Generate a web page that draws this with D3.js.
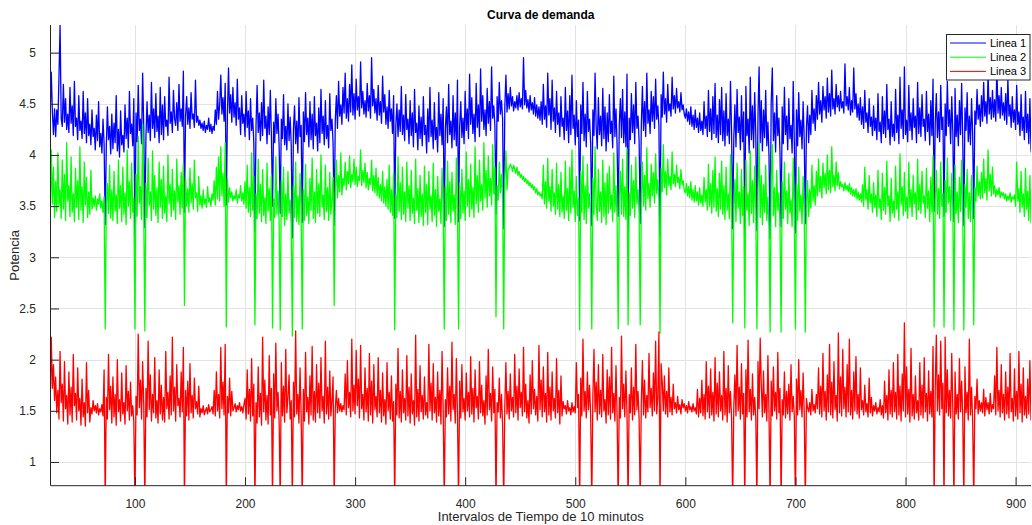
<!DOCTYPE html>
<html>
<head>
<meta charset="utf-8">
<script src="https://cdn.jsdelivr.net/npm/d3@7"></script>
<style>
  html, body { margin: 0; padding: 0; background: #fff; }
  svg { display: block; font-family: "Liberation Sans", Arial, Helvetica, sans-serif; }
</style>
</head>
<body>
<svg id="chart" width="1032" height="525"></svg>
<script>
// Demand curve: three feeders sampled every 10 minutes, one value per interval
const firstInterval = 20;

const linea1 = [
  4.35,4.52,4.29,4.38,4.81,4.42,4.20,4.45,4.18,4.44, // 20
  4.30,4.76,5.27,4.36,4.28,4.69,4.32,4.55,4.25,4.40, // 30
  4.22,4.66,4.31,4.48,4.19,4.72,4.28,4.36,4.15,4.58, // 40
  4.24,4.33,4.16,4.62,4.21,4.41,4.12,4.55,4.19,4.30, // 50
  4.10,4.44,4.18,4.26,4.05,4.39,4.14,4.52,4.08,4.21, // 60
  4.02,4.35,4.11,3.32,4.09,4.47,4.15,4.28,4.01,4.40, // 70
  4.06,4.31,4.12,4.58,4.04,4.25,3.98,4.43,4.10,4.19, // 80
  4.03,4.49,4.16,4.36,4.07,4.62,4.21,4.30,4.09,4.55, // 90
  3.12,4.41,4.13,4.68,4.24,4.35,4.11,4.80,4.27,3.29, // 100
  4.18,4.52,4.22,4.39,4.14,4.71,4.26,4.45,4.17,4.60, // 110
  4.23,4.38,4.12,4.66,4.20,4.49,4.15,4.57,4.28,4.34, // 120
  4.19,4.76,4.31,4.42,4.22,4.63,4.35,4.29,4.51,4.24, // 130
  4.69,4.33,4.45,4.28,4.82,3.44,4.38,4.57,4.30,4.46, // 140
  4.26,4.61,4.35,4.40,4.27,4.73,4.32,4.38,4.29,4.34, // 150
  4.26,4.31,4.24,4.33,4.22,4.29,4.25,4.36,4.23,4.30, // 160
  4.21,4.28,4.24,4.44,4.30,4.62,4.35,4.49,4.78,4.40, // 170
  4.56,4.33,4.70,3.51,4.38,4.85,4.41,4.59,4.32,4.66, // 180
  4.37,4.51,4.29,4.74,4.35,4.46,4.20,4.58,4.31,4.40, // 190
  4.18,4.62,4.27,4.43,4.15,4.55,4.24,4.36,4.12,3.25, // 200
  4.29,4.68,4.22,4.41,4.14,4.51,4.19,4.73,4.26,4.38, // 210
  4.11,4.47,4.20,4.63,4.17,3.50,4.32,4.12,4.55,4.21, // 220
  4.40,4.08,3.43,4.35,4.16,4.59,4.10,4.28,4.05,4.50, // 230
  4.14,4.37,4.09,3.19,4.25,4.48,4.11,4.33,4.02,4.56, // 240
  4.18,4.29,3.34,4.42,4.13,4.61,4.20,4.36,4.08,4.52, // 250
  4.15,4.40,4.06,4.57,4.19,4.31,4.04,4.46,4.12,4.64, // 260
  4.21,4.38,4.10,4.53,4.16,4.29,4.07,4.60,4.24,4.35, // 270
  4.12,3.31,4.34,4.58,4.26,4.72,4.38,4.49,4.30,4.66, // 280
  4.41,4.80,4.36,4.55,4.33,4.69,4.42,4.88,4.39,4.60, // 290
  4.35,4.74,4.44,4.57,4.38,4.91,4.46,4.62,4.40,4.53, // 300
  4.37,4.70,4.43,4.58,4.36,4.95,4.48,4.64,4.41,4.55, // 310
  4.34,4.68,4.39,4.52,4.31,4.77,4.42,4.59,4.30,4.47, // 320
  4.26,4.63,4.33,4.45,4.21,4.58,3.38,4.29,4.50,4.18, // 330
  4.44,4.23,4.67,4.20,4.39,4.14,4.59,4.25,4.35,4.11, // 340
  4.53,4.19,4.41,4.08,4.64,4.22,4.31,4.05,4.48,4.16, // 350
  4.37,4.09,4.57,4.20,4.29,4.02,4.45,4.13,4.66,4.18, // 360
  4.34,4.06,4.51,4.15,4.27,4.03,4.61,4.19,4.40,4.10, // 370
  4.55,3.30,4.26,4.47,4.12,4.69,4.20,4.33,4.07,4.58, // 380
  4.15,4.41,4.09,4.73,3.35,4.28,4.52,4.17,4.36,4.11, // 390
  4.62,4.24,4.45,4.16,4.79,4.30,4.56,4.21,4.40,4.13, // 400
  4.70,4.27,4.49,4.18,4.84,4.33,4.58,4.25,4.44,4.19, // 410
  4.65,4.31,4.52,4.24,4.86,4.36,4.48,4.28,3.42,4.57, // 420
  4.33,4.71,4.40,4.53,4.35,3.28,4.46,4.78,4.42,4.60, // 430
  4.45,4.66,4.48,4.57,4.43,4.52,4.46,4.58,4.44,4.61, // 440
  4.47,4.55,4.45,4.95,4.49,4.63,4.46,4.54,4.42,4.58, // 450
  4.44,4.51,4.40,4.56,4.38,4.49,4.36,4.47,4.34,4.52, // 460
  4.30,4.69,4.35,4.48,4.27,4.80,4.39,4.55,4.25,4.73, // 470
  4.33,4.46,4.22,4.62,4.30,4.41,4.18,4.57,4.28,4.36, // 480
  4.15,4.66,4.24,4.43,4.12,4.58,4.20,4.78,4.26,4.39, // 490
  4.10,4.53,4.18,4.34,3.36,4.49,4.21,4.71,4.14,4.40, // 500
  4.08,4.62,4.23,4.35,4.11,3.31,4.44,4.19,4.80,4.27, // 510
  4.06,4.56,4.20,4.38,4.09,4.65,4.16,4.47,4.04,4.41, // 520
  4.13,4.59,4.21,4.33,4.07,4.77,4.18,4.45,4.10,3.40, // 530
  4.30,4.55,4.17,4.64,4.12,4.42,4.08,4.79,3.25,4.36, // 540
  4.15,4.60,4.22,4.49,4.11,4.71,4.26,4.38,4.14,3.33, // 550
  4.29,4.67,4.24,4.52,4.18,4.80,4.31,4.44,4.21,4.62, // 560
  4.33,4.57,4.26,4.74,4.35,4.48,4.28,3.20,4.59,4.37, // 570
  4.81,4.40,4.55,4.32,4.69,4.43,4.50,4.38,4.76,4.45, // 580
  4.58,4.41,4.65,4.46,4.52,4.42,4.61,4.44,4.49,4.40, // 590
  4.36,4.45,4.33,4.42,4.30,4.47,4.28,4.39,4.25,4.44, // 600
  4.27,4.36,4.22,4.41,4.24,4.33,4.20,4.52,4.26,4.38, // 610
  4.18,4.63,4.23,4.45,4.15,4.57,4.21,4.70,4.17,4.39, // 620
  4.12,4.54,4.20,4.66,4.14,4.43,4.09,4.60,4.19,4.35, // 630
  4.11,4.72,4.24,3.28,4.16,4.49,4.08,4.64,4.22,4.37, // 640
  4.05,4.58,4.13,4.42,3.22,4.67,4.19,4.35,4.02,4.76, // 650
  4.15,4.48,4.07,4.61,4.20,3.26,4.39,4.86,4.12,4.53, // 660
  4.04,4.44,4.17,4.63,4.09,4.32,3.99,3.18,4.51,4.85, // 670
  4.14,4.41,4.03,4.58,4.19,4.36,4.01,3.30,4.47,4.11, // 680
  4.66,4.20,4.38,4.05,4.55,4.16,4.29,4.02,4.72,4.13, // 690
  3.24,4.44,4.09,4.61,4.18,4.34,4.06,4.52,4.15,3.33, // 700
  4.27,4.48,4.12,4.39,4.20,4.63,4.31,4.45,4.24,4.58, // 710
  4.35,4.71,4.40,4.53,4.32,4.67,4.44,4.57,4.36,4.75, // 720
  4.42,4.60,4.38,4.83,4.45,4.55,4.40,4.69,4.47,4.58, // 730
  4.43,4.62,4.46,4.52,4.41,4.89,4.48,4.57,4.44,4.66, // 740
  4.39,4.53,4.42,4.85,4.45,4.60,4.37,4.50,4.34,4.56, // 750
  4.30,4.47,4.26,4.63,4.32,4.41,4.22,4.55,4.28,4.37, // 760
  4.19,4.48,4.24,4.36,4.15,4.60,4.23,4.32,4.12,4.57, // 770
  4.21,4.43,4.17,4.69,4.25,4.35,4.10,4.52,4.18,4.30, // 780
  4.14,4.64,4.22,4.39,4.11,4.76,4.26,4.44,4.16,4.86, // 790
  4.20,4.34,4.13,4.68,4.24,4.41,4.15,4.55,4.27,4.38, // 800
  4.12,4.71,4.21,4.46,4.18,4.59,4.28,4.35,4.14,4.62, // 810
  4.23,4.40,4.10,4.53,4.19,4.74,3.45,4.31,4.60,4.17, // 820
  4.42,4.13,4.68,4.25,4.37,3.40,4.50,4.19,4.72,4.28, // 830
  4.44,4.11,4.57,4.22,3.35,4.65,4.18,4.39,4.09,4.53, // 840
  4.20,4.70,4.15,3.31,4.46,4.24,4.61,4.13,4.38,4.10, // 850
  4.55,4.21,3.38,4.43,4.30,4.64,4.35,4.49,4.28,4.58, // 860
  4.33,4.71,4.38,4.52,4.31,4.80,4.40,4.56,4.35,4.63, // 870
  4.37,4.54,4.33,4.86,4.41,4.58,4.36,4.66,4.39,4.51, // 880
  4.34,4.60,4.30,4.75,4.38,4.49,4.27,4.57,4.32,4.44, // 890
  4.25,4.68,4.30,4.42,4.19,4.59,4.24,4.37,4.15,4.62, // 900
  4.22,4.40,4.11,4.55,4.05,3.98,4.20,4.35,4.12,4.30  // 910
];

const linea2 = [
  3.55,3.48,3.92,3.41,4.05,3.52,3.88,3.39,3.74,3.45, // 20
  4.02,3.50,3.66,3.38,3.95,3.47,3.81,3.36,4.12,3.55, // 30
  3.70,3.40,3.98,3.44,3.62,3.35,3.87,3.49,3.75,3.37, // 40
  4.08,3.46,3.69,3.34,3.93,3.51,3.78,3.39,3.64,3.42, // 50
  3.85,3.47,3.58,3.50,3.60,3.46,3.57,3.52,3.62,3.48, // 60
  3.55,3.44,3.59,2.30,3.51,3.72,3.43,3.90,3.38,3.66, // 70
  3.36,3.84,3.45,3.61,3.33,3.95,3.48,3.70,3.35,3.88, // 80
  3.42,3.63,3.32,4.05,3.50,3.74,3.38,3.92,3.44,3.58, // 90
  2.30,3.81,3.40,4.18,3.53,3.69,3.37,4.30,3.46,2.28, // 100
  3.72,3.39,3.97,3.51,3.64,3.36,4.04,3.47,3.80,3.41, // 110
  3.68,3.34,3.93,3.49,3.76,3.38,3.89,3.43,3.60,3.35, // 120
  4.00,3.52,3.71,3.40,3.86,3.46,3.65,3.37,3.96,3.54, // 130
  3.70,3.42,3.83,3.48,3.91,2.53,3.78,3.50,3.67,3.44, // 140
  3.87,3.53,3.72,3.47,3.95,3.58,3.63,3.45,3.79,3.51, // 150
  3.60,3.48,3.66,3.52,3.57,3.49,3.69,3.54,3.58,3.50, // 160
  3.62,3.56,3.75,3.51,3.88,3.57,3.98,3.55,4.08,3.60, // 170
  3.82,3.50,4.12,2.32,3.77,3.54,3.68,3.58,3.64,3.55, // 180
  3.60,3.57,3.66,3.53,3.61,3.58,3.70,3.55,3.63,3.52, // 190
  3.74,3.48,3.90,3.44,3.68,3.40,4.02,3.46,3.79,2.34, // 200
  3.62,3.38,3.96,3.43,3.71,3.35,3.86,3.41,3.58,3.33, // 210
  3.92,3.45,3.67,3.36,3.80,2.31,3.57,3.39,3.98,3.42, // 220
  3.65,3.34,2.29,3.75,3.40,3.88,3.31,3.62,3.37,3.84, // 230
  3.43,3.56,3.30,2.23,3.70,3.39,3.93,3.35,3.60,3.32, // 240
  3.82,3.44,2.30,3.66,3.36,3.91,3.41,3.59,3.33,3.77, // 250
  3.46,3.97,3.38,3.64,3.34,3.86,3.43,3.72,3.40,4.00, // 260
  3.49,3.61,3.37,3.90,3.45,3.68,3.36,3.83,3.42,3.57, // 270
  3.78,2.53,3.62,3.95,3.58,3.80,3.64,4.02,3.61,3.77, // 280
  3.70,3.93,3.66,3.84,3.72,3.99,3.68,3.81,3.74,3.96, // 290
  3.71,3.88,3.69,3.79,3.75,4.05,3.70,3.85,3.73,3.92, // 300
  3.68,3.83,3.66,3.77,3.71,3.95,3.65,3.80,3.63,3.87, // 310
  3.60,3.78,3.58,3.71,3.55,3.84,3.53,3.69,3.50,3.76, // 320
  3.47,3.90,3.44,3.66,3.41,3.82,2.29,3.61,3.39,3.98, // 330
  3.45,3.73,3.37,3.88,3.42,3.64,3.35,3.93,3.48,3.70, // 340
  3.36,3.85,3.43,3.58,3.33,3.96,3.46,3.67,3.34,3.80, // 350
  3.40,3.62,3.31,3.89,3.44,3.71,3.32,3.84,3.47,3.60, // 360
  3.35,3.92,3.41,3.66,3.30,3.79,3.45,3.57,3.33,3.87, // 370
  3.48,2.30,3.69,3.36,3.94,3.42,3.74,3.34,3.83,3.45, // 380
  3.61,3.32,3.97,3.49,2.30,3.72,3.38,3.86,3.43,3.65, // 390
  3.36,4.03,3.50,3.76,3.40,3.91,3.47,3.68,3.39,4.08, // 400
  3.52,3.80,3.44,3.95,3.55,3.71,3.46,4.12,3.58,3.85, // 410
  3.49,3.99,3.60,3.77,3.51,4.10,3.62,3.88,2.42,3.70, // 420
  3.56,3.93,3.63,3.81,3.59,2.30,3.74,4.04,3.66,3.86, // 430
  3.87,3.91,3.89,3.84,3.90,3.86,3.82,3.88,3.80,3.84, // 440
  3.78,3.81,3.76,3.79,3.74,3.77,3.72,3.75,3.70,3.73, // 450
  3.68,3.71,3.66,3.69,3.63,3.67,3.61,3.64,3.60,3.62, // 460
  3.57,3.90,3.52,3.74,3.48,3.97,3.55,3.69,3.45,3.86, // 470
  3.50,3.63,3.42,3.92,3.47,3.71,3.40,3.83,3.44,3.60, // 480
  3.38,3.94,3.46,3.67,3.36,3.88,3.43,4.05,3.49,3.65, // 490
  3.35,3.79,3.41,3.58,2.29,3.84,3.44,3.99,3.37,3.70, // 500
  3.33,3.91,3.48,3.62,3.39,2.30,3.77,3.42,4.08,3.53, // 510
  3.36,3.86,3.45,3.64,3.34,3.95,3.40,3.73,3.32,3.82, // 520
  3.43,3.89,3.47,3.61,3.35,4.02,3.44,3.70,3.38,2.30, // 530
  3.58,3.84,3.42,3.96,3.40,3.69,3.37,4.06,2.34,3.63, // 540
  3.41,3.90,3.48,3.75,3.39,3.98,3.52,3.66,3.43,2.34, // 550
  3.55,3.93,3.50,3.80,3.46,4.07,3.57,3.72,3.49,3.91, // 560
  3.60,3.83,3.53,4.01,3.62,3.76,3.56,2.26,3.87,3.64, // 570
  4.10,3.68,3.84,3.61,3.96,3.70,3.79,3.66,4.03,3.72, // 580
  3.81,3.69,3.90,3.73,3.78,3.67,3.86,3.71,3.75,3.65, // 590
  3.63,3.72,3.60,3.69,3.58,3.74,3.56,3.66,3.54,3.70, // 600
  3.55,3.64,3.51,3.68,3.53,3.61,3.50,3.78,3.54,3.66, // 610
  3.46,3.91,3.50,3.72,3.43,3.85,3.49,3.98,3.45,3.67, // 620
  3.40,3.82,3.47,3.94,3.42,3.70,3.37,3.88,3.46,3.62, // 630
  3.38,4.00,3.51,2.36,3.44,3.76,3.35,3.92,3.48,3.64, // 640
  3.33,3.86,3.41,3.69,2.31,3.95,3.46,3.62,3.31,4.04, // 650
  3.43,3.75,3.34,3.89,3.47,2.30,3.66,4.12,3.39,3.80, // 660
  3.32,3.71,3.44,3.90,3.36,3.59,3.28,2.27,3.78,4.10, // 670
  3.41,3.68,3.30,3.85,3.46,3.63,3.29,2.27,3.74,3.38, // 680
  3.93,3.47,3.65,3.33,3.82,3.43,3.56,3.30,3.97,3.40, // 690
  2.30,3.71,3.36,3.88,3.45,3.61,3.33,3.79,3.42,2.27, // 700
  3.54,3.75,3.40,3.66,3.48,3.90,3.55,3.70,3.51,3.84, // 710
  3.60,3.96,3.64,3.79,3.58,3.92,3.68,3.82,3.62,4.00, // 720
  3.66,3.85,3.63,4.08,3.69,3.80,3.65,3.93,3.70,3.83, // 730
  3.67,3.74,3.69,3.71,3.65,3.73,3.66,3.70,3.64,3.72, // 740
  3.62,3.68,3.60,3.66,3.59,3.67,3.57,3.64,3.56,3.62, // 750
  3.54,3.71,3.50,3.88,3.56,3.66,3.47,3.80,3.53,3.62, // 760
  3.44,3.73,3.49,3.61,3.40,3.85,3.48,3.57,3.37,3.82, // 770
  3.46,3.68,3.42,3.94,3.50,3.60,3.35,3.77,3.43,3.55, // 780
  3.39,3.89,3.47,3.64,3.36,4.01,3.51,3.69,3.41,3.83, // 790
  3.45,3.59,3.38,3.93,3.49,3.66,3.40,3.80,3.52,3.63, // 800
  3.37,3.96,3.46,3.71,3.43,3.84,3.53,3.60,3.39,3.87, // 810
  3.48,3.65,3.35,3.78,3.44,3.99,2.32,3.56,3.85,3.42, // 820
  3.67,3.38,3.93,3.50,3.62,2.32,3.75,3.44,3.97,3.53, // 830
  3.69,3.36,3.82,3.47,2.29,3.90,3.43,3.64,3.34,3.78, // 840
  3.45,3.95,3.40,2.29,3.71,3.49,3.86,3.38,3.63,3.35, // 850
  3.80,3.46,2.34,3.68,3.55,3.89,3.60,3.74,3.57,3.83, // 860
  3.58,3.96,3.63,3.77,3.56,4.05,3.65,3.81,3.60,3.88, // 870
  3.62,3.70,3.59,3.66,3.61,3.68,3.58,3.64,3.60,3.63, // 880
  3.57,3.62,3.55,3.60,3.56,3.63,3.54,3.59,3.57,3.61, // 890
  3.50,3.93,3.55,3.67,3.44,3.84,3.49,3.62,3.40,3.87, // 900
  3.47,3.65,3.36,3.80,3.34,3.32,3.45,3.60,3.37,3.55  // 910
];

const linea3 = [
  1.45,1.38,1.62,1.55,2.22,1.72,1.95,1.60,1.83,1.48, // 20
  1.70,1.42,2.08,1.58,1.76,1.40,1.98,1.52,1.65,1.37, // 30
  1.88,1.46,1.73,1.39,2.05,1.55,1.67,1.41,1.92,1.50, // 40
  1.62,1.36,1.81,1.44,1.58,1.35,1.97,1.48,1.70,1.39, // 50
  1.53,1.47,1.60,1.50,1.55,1.48,1.57,1.46,1.52,1.49, // 60
  1.56,1.45,1.90,0.60,1.63,1.42,2.05,1.51,1.74,1.38, // 70
  1.83,1.44,1.66,1.36,2.00,1.49,1.61,1.40,1.87,1.47, // 80
  1.58,1.37,1.94,1.50,1.69,1.41,1.78,1.45,1.55,1.39, // 90
  0.60,1.64,1.46,2.25,1.53,1.80,1.42,1.98,1.57,0.60, // 100
  1.72,1.44,2.18,1.51,1.85,1.40,1.66,1.48,2.02,1.43, // 110
  1.60,1.38,1.90,1.47,1.75,1.41,1.63,1.39,2.08,1.52, // 120
  1.68,1.42,1.84,1.46,2.22,1.50,1.73,1.40,1.95,1.55, // 130
  1.62,1.44,1.88,1.49,2.12,0.60,1.70,1.45,1.79,1.41, // 140
  1.96,1.48,1.65,1.43,1.82,1.52,1.59,1.47,1.74,1.44, // 150
  1.52,1.48,1.55,1.46,1.50,1.53,1.47,1.56,1.49,1.51, // 160
  1.54,1.47,1.70,1.45,1.88,1.50,1.66,1.43,2.12,1.52, // 170
  1.78,1.46,2.15,0.60,1.64,1.48,1.82,1.45,1.69,1.50, // 180
  1.53,1.57,1.49,1.55,1.51,1.58,1.50,1.54,1.48,1.56, // 190
  1.62,1.42,1.90,1.47,1.71,1.40,2.01,1.45,1.76,0.60, // 200
  1.58,1.38,1.93,1.44,1.67,1.36,2.22,1.49,1.80,1.41, // 210
  1.65,1.37,2.04,1.46,1.72,0.60,1.86,1.43,2.16,1.50, // 220
  1.68,1.40,0.60,1.97,1.45,1.74,1.39,2.10,1.48,1.63, // 230
  1.85,1.42,1.60,0.60,1.78,1.44,2.28,1.47,1.66,1.38, // 240
  1.92,1.45,0.60,1.71,1.40,2.07,1.49,1.63,1.37,1.84, // 250
  1.46,2.13,1.41,1.69,1.39,1.95,1.48,1.77,1.43,2.02, // 260
  1.50,1.64,1.38,2.18,1.47,1.73,1.42,1.89,1.45,1.60, // 270
  1.83,0.60,1.52,1.70,1.48,1.62,1.50,1.57,1.49,1.55, // 280
  1.51,1.86,1.46,1.99,1.53,1.68,1.44,2.20,1.50,1.75, // 290
  1.47,2.09,1.55,1.81,1.43,2.14,1.52,1.66,1.41,1.92, // 300
  1.49,1.72,1.40,2.06,1.46,1.79,1.38,1.95,1.51,1.64, // 310
  1.44,2.02,1.48,1.70,1.39,1.87,1.45,1.61,1.37,1.97, // 320
  1.50,1.68,1.42,1.84,1.40,1.59,0.60,1.76,1.46,2.11, // 330
  1.43,1.69,1.39,1.90,1.48,1.62,1.41,2.04,1.45,1.73, // 340
  1.38,1.86,1.47,1.60,1.36,2.24,1.44,1.71,1.40,1.94, // 350
  1.49,1.65,1.42,1.83,1.46,1.58,1.43,2.15,1.50,1.77, // 360
  1.41,1.96,1.48,1.63,1.39,1.88,1.45,1.70,1.37,2.08, // 370
  1.52,0.60,1.61,1.44,1.92,1.47,1.74,1.40,2.17,1.51, // 380
  1.66,1.38,2.01,1.46,0.60,1.79,1.43,1.95,1.49,1.62, // 390
  1.41,1.87,1.50,1.68,1.44,2.03,1.47,1.72,1.39,1.90, // 400
  1.53,1.64,1.42,1.98,1.48,1.75,1.45,1.60,1.37,1.84, // 410
  1.46,2.10,1.51,1.67,1.40,1.93,1.48,1.71,0.60,1.58, // 420
  1.49,1.82,1.43,1.66,1.36,0.60,1.55,1.97,1.47,1.69, // 430
  1.42,1.86,1.50,1.63,1.44,2.05,1.48,1.74,1.41,1.91, // 440
  1.53,1.68,1.45,2.12,1.49,1.76,1.43,1.60,1.38,1.85, // 450
  1.47,1.99,1.52,1.71,1.46,1.64,1.40,2.14,1.51,1.80, // 460
  1.44,1.93,1.49,1.67,1.39,2.07,1.46,1.73,1.41,1.88, // 470
  1.50,1.62,1.43,2.01,1.48,1.70,1.37,1.84,1.45,1.59, // 480
  1.52,1.55,1.47,1.60,1.50,1.53,1.46,1.58,1.49,1.54, // 490
  1.48,1.97,1.53,1.66,0.60,1.82,1.45,2.20,1.50,1.69, // 500
  1.43,1.88,1.51,1.75,1.46,0.60,1.64,2.10,1.49,1.78, // 510
  1.41,1.95,1.47,1.70,1.44,2.05,1.50,1.61,1.38,1.90, // 520
  1.46,1.83,1.42,2.12,1.48,1.67,1.40,1.94,1.45,0.60, // 530
  1.63,1.43,2.23,1.52,1.76,1.44,1.89,1.47,0.60,1.66, // 540
  1.48,1.92,1.41,1.73,1.46,2.15,1.51,1.69,1.42,0.60, // 550
  1.58,1.99,1.46,1.80,1.43,1.65,1.49,2.06,1.53,1.72, // 560
  1.45,1.87,1.50,2.18,1.47,1.64,2.27,0.60,1.96,1.78, // 570
  1.50,1.84,1.47,1.69,1.44,1.92,1.49,1.63,1.46,1.76, // 580
  1.52,1.58,1.48,1.64,1.51,1.56,1.47,1.61,1.53,1.57, // 590
  1.50,1.55,1.48,1.59,1.51,1.54,1.49,1.57,1.50,1.53, // 600
  1.47,1.71,1.44,1.62,1.48,1.80,1.45,1.66,1.42,1.98, // 610
  1.49,1.74,1.43,1.91,1.46,1.68,1.40,2.02,1.47,1.77, // 620
  1.44,1.88,1.50,1.65,1.41,2.08,1.46,1.72,1.39,1.94, // 630
  1.48,1.69,1.43,0.60,1.54,1.85,1.45,2.14,1.50,1.73, // 640
  1.42,1.96,1.47,1.67,0.60,1.90,1.44,2.19,1.49,1.71, // 650
  1.41,1.86,1.46,1.63,1.43,0.60,1.98,1.52,2.21,1.75, // 660
  1.44,1.89,1.48,1.66,1.40,2.04,1.47,0.60,1.79,1.45, // 670
  1.93,1.50,1.68,1.42,2.07,1.48,1.72,0.60,1.61,1.46, // 680
  1.88,1.43,1.69,1.47,1.76,1.41,1.95,1.49,1.64,1.45, // 690
  0.60,1.81,1.46,2.00,1.51,1.70,1.44,1.87,1.48,0.60, // 700
  1.62,1.53,1.49,1.58,1.46,1.71,1.50,1.56,1.48,1.66, // 710
  1.52,1.92,1.47,1.74,1.44,2.06,1.50,1.69,1.41,1.85, // 720
  1.49,2.15,1.46,1.78,1.43,1.98,1.51,1.65,1.40,2.26, // 730
  1.48,1.83,1.45,2.10,1.52,1.73,1.44,1.95,1.49,2.20, // 740
  1.46,1.70,1.42,1.88,1.50,2.03,1.47,1.66,1.43,1.92, // 750
  1.51,1.60,1.46,1.75,1.49,1.57,1.44,1.82,1.48,1.63, // 760
  1.45,1.55,1.50,1.58,1.47,1.53,1.49,1.61,1.46,1.55, // 770
  1.43,1.79,1.48,1.65,1.41,1.90,1.47,1.70,1.44,1.97, // 780
  1.49,1.68,1.42,2.05,1.46,1.74,1.40,1.86,1.50,2.36, // 790
  1.44,1.93,1.47,1.71,1.39,2.11,1.45,1.66,1.42,1.84, // 800
  1.48,1.60,1.41,1.97,1.46,1.75,1.43,2.02,1.49,1.67, // 810
  1.40,1.89,1.47,1.69,1.44,2.13,0.60,1.72,2.24,1.50, // 820
  1.85,1.46,2.18,1.52,1.77,0.60,2.22,1.48,1.90,1.45, // 830
  1.70,1.43,2.06,1.51,0.60,1.88,1.47,1.66,1.42,2.01, // 840
  1.49,1.79,1.44,0.60,1.93,1.48,1.68,1.41,2.20,1.46, // 850
  1.73,1.40,0.60,1.64,1.52,1.81,1.47,1.60,1.50,1.58, // 860
  1.48,1.71,1.45,1.63,1.51,1.58,1.47,1.67,1.49,1.56, // 870
  1.52,1.84,1.46,2.12,1.50,1.70,1.44,1.95,1.48,1.66, // 880
  1.41,1.88,1.47,1.73,1.43,2.06,1.49,1.62,1.40,1.91, // 890
  1.45,1.69,1.42,2.08,1.48,1.76,1.39,1.92,1.46,1.64, // 900
  1.43,1.81,1.47,1.99,1.41,1.44,1.58,1.70,1.42,1.55  // 910
];

const seriesNames = ["Linea 1", "Linea 2", "Linea 3"];
const seriesColors = ["#0000ff", "#00ff00", "#ff0000"];
const xTicks = [100, 200, 300, 400, 500, 600, 700, 800, 900];
const yTicks = [1, 1.5, 2, 2.5, 3, 3.5, 4, 4.5, 5];
const xDomain = [23.3, 914];
const yDomain = [0.768, 5.27];

const plot = { left: 50.5, right: 1031, top: 25, bottom: 485.7 };
const axisColor = "#262626";
const gridColor = "#e3e3e3";
const tickLen = 8.5;

const svg = d3.select("#chart");

const x = d3.scaleLinear().domain(xDomain).range([plot.left, plot.right]);
const y = d3.scaleLinear().domain(yDomain).range([plot.bottom, plot.top]);

// Grid lines
const grid = svg.append("g").attr("stroke", gridColor).attr("stroke-width", 1).attr("shape-rendering", "crispEdges");
grid.selectAll("line.gx").data(xTicks).join("line")
  .attr("x1", d => Math.round(x(d)) + 0.5).attr("x2", d => Math.round(x(d)) + 0.5)
  .attr("y1", plot.top).attr("y2", plot.bottom);
grid.selectAll("line.gy").data(yTicks).join("line")
  .attr("y1", d => Math.round(y(d)) + 0.5).attr("y2", d => Math.round(y(d)) + 0.5)
  .attr("x1", plot.left).attr("x2", plot.right);

// Clip the curves to the axes box
svg.append("defs").append("clipPath").attr("id", "plotClip")
  .append("rect")
  .attr("x", plot.left).attr("y", plot.top)
  .attr("width", plot.right - plot.left).attr("height", plot.bottom - plot.top);

const allSeries = [linea1, linea2, linea3];
const line = d3.line()
  .x((d, i) => x(firstInterval + i))
  .y(d => y(d));

const curves = svg.append("g").attr("clip-path", "url(#plotClip)");
allSeries.forEach((vals, k) => {
  curves.append("path")
    .datum(vals)
    .attr("fill", "none")
    .attr("stroke", seriesColors[k])
    .attr("stroke-width", 1.3)
    .attr("stroke-linejoin", "round")
    .attr("d", line);
});

// Axes (ticks pointing inward)
const xAxis = d3.axisBottom(x).tickValues(xTicks).tickSize(-tickLen).tickPadding(tickLen + 5).tickFormat(d3.format("d"));
const yAxis = d3.axisLeft(y).tickValues(yTicks).tickSize(-tickLen).tickPadding(tickLen + 6).tickFormat(d => String(d));

const gx = svg.append("g").attr("transform", `translate(0,${plot.bottom})`).call(xAxis);
const gy = svg.append("g").attr("transform", `translate(${plot.left},0)`).call(yAxis);

[gx, gy].forEach(g => {
  g.select(".domain").remove();
  g.selectAll(".tick line").attr("stroke", axisColor).attr("stroke-width", 1);
  g.selectAll(".tick text").attr("fill", axisColor).attr("font-size", 12)
    .attr("font-family", "'Liberation Sans', Arial, sans-serif");
});

// Axis lines
svg.append("line")
  .attr("x1", plot.left).attr("x2", plot.right)
  .attr("y1", plot.bottom).attr("y2", plot.bottom)
  .attr("stroke", axisColor).attr("stroke-width", 1);
svg.append("line")
  .attr("x1", plot.left).attr("x2", plot.left)
  .attr("y1", plot.top).attr("y2", plot.bottom)
  .attr("stroke", axisColor).attr("stroke-width", 1);

// Title and axis labels
svg.append("text")
  .attr("x", (plot.left + plot.right) / 2).attr("y", 19)
  .attr("text-anchor", "middle")
  .attr("font-size", 12).attr("font-weight", "bold").attr("fill", "#000")
  .text("Curva de demanda");

svg.append("text")
  .attr("x", (plot.left + plot.right) / 2).attr("y", 521)
  .attr("text-anchor", "middle")
  .attr("font-size", 13).attr("fill", axisColor)
  .text("Intervalos de Tiempo de 10 minutos");

svg.append("text")
  .attr("transform", `translate(19,${(plot.top + plot.bottom) / 2}) rotate(-90)`)
  .attr("text-anchor", "middle")
  .attr("font-size", 13).attr("fill", axisColor)
  .text("Potencia");

// Legend
const legend = svg.append("g");
legend.append("rect")
  .attr("x", 946.5).attr("y", 34.5).attr("width", 83.5).attr("height", 45.5)
  .attr("fill", "#fff").attr("stroke", axisColor).attr("stroke-width", 1);
seriesNames.forEach((name, k) => {
  const ly = 43 + k * 14.2;
  legend.append("line")
    .attr("x1", 950).attr("x2", 986)
    .attr("y1", ly).attr("y2", ly)
    .attr("stroke", seriesColors[k]).attr("stroke-width", 1);
  legend.append("text")
    .attr("x", 990).attr("y", ly + 4)
    .attr("font-size", 11).attr("fill", "#000")
    .text(name);
});
</script>
</body>
</html>
